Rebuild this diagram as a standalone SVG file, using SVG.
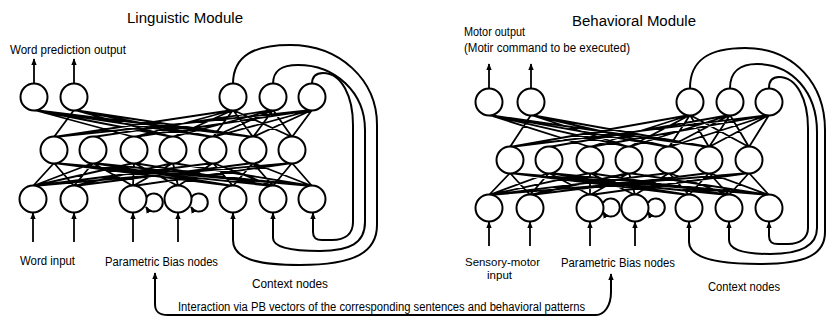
<svg xmlns="http://www.w3.org/2000/svg" width="827" height="320" viewBox="0 0 827 320">
<style>
.n{fill:#fff;stroke:#000;stroke-width:2}
.c{fill:none;stroke:#000;stroke-width:1.8;stroke-linecap:round}
.a{fill:none;stroke:#000;stroke-width:1.8}
.lp{fill:none;stroke:#000;stroke-width:2}
.t{font-family:"Liberation Sans",Arial,sans-serif;fill:#000}
</style>
<defs>
<marker id="ah" viewBox="0 0 10 8" refX="9" refY="4" markerWidth="7" markerHeight="6" markerUnits="userSpaceOnUse" orient="auto"><path d="M0,0L10,4L0,8z" fill="#000"/></marker>
<marker id="ahs" viewBox="0 0 10 8" refX="9" refY="4" markerWidth="7" markerHeight="6" markerUnits="userSpaceOnUse" orient="auto-start-reverse"><path d="M0,0L10,4L0,8z" fill="#000"/></marker>
</defs>
<rect width="827" height="320" fill="#fff"/>

<g id="connectors">
<path class="c" d="M34,110L134,137M34,110L173,137M34,110L213,137M34,110L253,137
M74,110L54,137M74,110L173,137M74,110L213,137M74,110L253,137
M233,110L54,137M233,110L134,137M233,110L173,137M233,110L213,137M233,110L253,137M233,110L292,137
M273,110L93,137M273,110L173,137M273,110L213,137M273,110L253,137M273,110L292,137
M312,110L54,137M312,110L134,137M312,110L213,137M312,110L253,137M312,110L292,137"/>
<path class="c" d="M54,163L33,186M54,163L74,186M54,163L233,186M54,163L273,186M54,163L312,186
M93,163L33,186M93,163L74,186M93,163L133,186M93,163L233,186M93,163L312,186
M134,163L33,186M134,163L133,186M134,163L178,186M134,163L273,186
M173,163L74,186M173,163L133,186M173,163L178,186M173,163L312,186
M213,163L33,186M213,163L178,186M213,163L233,186M213,163L273,186
M253,163L74,186M253,163L233,186M253,163L273,186M253,163L312,186
M292,163L33,186M292,163L133,186M292,163L273,186M292,163L312,186"/>
<path class="c" d="M489,115L590,147M489,115L629,147M489,115L669,147M489,115L709,147
M531,115L510,147M531,115L629,147M531,115L669,147M531,115L709,147
M690,115L510,147M690,115L590,147M690,115L629,147M690,115L669,147M690,115L709,147M690,115L749,147
M730,115L549,147M730,115L629,147M730,115L669,147M730,115L709,147M730,115L749,147
M769,115L510,147M769,115L590,147M769,115L669,147M769,115L709,147M769,115L749,147"/>
<path class="c" d="M510,173L489,195M510,173L530,195M510,173L689,195M510,173L729,195M510,173L769,195
M549,173L489,195M549,173L530,195M549,173L590,195M549,173L689,195M549,173L769,195
M590,173L489,195M590,173L590,195M590,173L635,195M590,173L729,195
M629,173L530,195M629,173L590,195M629,173L635,195M629,173L769,195
M669,173L489,195M669,173L635,195M669,173L689,195M669,173L729,195
M709,173L530,195M709,173L689,195M709,173L729,195M709,173L769,195
M749,173L489,195M749,173L590,195M749,173L729,195M749,173L769,195"/>

<!-- output arrows -->
<path class="a" marker-end="url(#ah)" d="M34,84L34,59"/>
<path class="a" marker-end="url(#ah)" d="M74,84L74,59"/>
<path class="a" marker-end="url(#ah)" d="M489,88L489,64"/>
<path class="a" marker-end="url(#ah)" d="M531,88L531,64"/>
<!-- input arrows -->
<path class="a" marker-end="url(#ah)" d="M33,242L33,213"/>
<path class="a" marker-end="url(#ah)" d="M74,242L74,213"/>
<path class="a" marker-end="url(#ah)" d="M133,242L133,213"/>
<path class="a" marker-end="url(#ah)" d="M178,242L178,213"/>
<path class="a" marker-end="url(#ah)" d="M489,246L489,222"/>
<path class="a" marker-end="url(#ah)" d="M530,246L530,222"/>
<path class="a" marker-end="url(#ah)" d="M590,246L590,222"/>
<path class="a" marker-end="url(#ah)" d="M635,246L635,222"/>
<!-- self loops on PB nodes -->
<path class="lp" marker-end="url(#ah)" d="M146,198A9,9 0 1,1 146,207"/>
<path class="lp" marker-end="url(#ah)" d="M191,198A9,9 0 1,1 191,207"/>
<path class="lp" marker-end="url(#ah)" d="M603,203A9,9 0 1,1 603,212"/>
<path class="lp" marker-end="url(#ah)" d="M648,203A9,9 0 1,1 648,212"/>
<!-- context loops -->
<path class="lp" marker-end="url(#ah)" d="M233,84C233,55 255,45 290,45C340,45 377,80 377,125L377,225C377,252 355,265 300,265C255,265 233,258 233,240L233,213"/>
<path class="lp" marker-end="url(#ah)" d="M273,84C273,70 282,65 298,65C335,65 365,92 365,130L365,222C365,243 350,251 320,251C290,251 273,247 273,238L273,213"/>
<path class="lp" marker-end="url(#ah)" d="M312,84C312,77 316,73 323,73C342,73 353,97 353,125L353,222C353,234 345,240 332,240L322,240C316,240 313,238 313,232L313,213"/>
<path class="lp" marker-end="url(#ah)" d="M690,88C690,58 712,48 745,48C795,48 825,85 825,130L825,232C825,255 805,264 760,264C710,264 689,256 689,242L689,222"/>
<path class="lp" marker-end="url(#ah)" d="M730,88C730,72 740,64 757,64C792,64 817,92 817,132L817,228C817,246 800,254 770,254C745,254 729,250 729,240L729,222"/>
<path class="lp" marker-end="url(#ah)" d="M769,88C769,81 772,77 779,77C797,77 808,100 808,128L808,228C808,238 800,244 788,244L778,244C772,244 769,242 769,236L769,222"/>
<!-- interaction -->
<path class="lp" marker-start="url(#ahs)" marker-end="url(#ah)" d="M155,273L155,304C155,312 159,315 168,315L596,315C604,315 611,306 611,292L611,274"/>
</g>

<g id="L-out1"><circle class="n" cx="34" cy="97" r="13.5"/></g>
<g id="L-out2"><circle class="n" cx="74" cy="97" r="13.5"/></g>
<g id="L-ctxout1"><circle class="n" cx="233" cy="97" r="13.5"/></g>
<g id="L-ctxout2"><circle class="n" cx="273" cy="97" r="13.5"/></g>
<g id="L-ctxout3"><circle class="n" cx="312" cy="97" r="13.5"/></g>
<g id="L-hid1"><circle class="n" cx="54" cy="150" r="13.5"/></g>
<g id="L-hid2"><circle class="n" cx="93" cy="150" r="13.5"/></g>
<g id="L-hid3"><circle class="n" cx="134" cy="150" r="13.5"/></g>
<g id="L-hid4"><circle class="n" cx="173" cy="150" r="13.5"/></g>
<g id="L-hid5"><circle class="n" cx="213" cy="150" r="13.5"/></g>
<g id="L-hid6"><circle class="n" cx="253" cy="150" r="13.5"/></g>
<g id="L-hid7"><circle class="n" cx="292" cy="150" r="13.5"/></g>
<g id="L-in1"><circle class="n" cx="33" cy="199" r="13.5"/></g>
<g id="L-in2"><circle class="n" cx="74" cy="199" r="13.5"/></g>
<g id="L-pb1"><circle class="n" cx="133" cy="199" r="13.5"/></g>
<g id="L-pb2"><circle class="n" cx="178" cy="199" r="13.5"/></g>
<g id="L-ctxin1"><circle class="n" cx="233" cy="199" r="13.5"/></g>
<g id="L-ctxin2"><circle class="n" cx="273" cy="199" r="13.5"/></g>
<g id="L-ctxin3"><circle class="n" cx="312" cy="199" r="13.5"/></g>

<g id="B-out1"><circle class="n" cx="489" cy="102" r="13.5"/></g>
<g id="B-out2"><circle class="n" cx="531" cy="102" r="13.5"/></g>
<g id="B-ctxout1"><circle class="n" cx="690" cy="102" r="13.5"/></g>
<g id="B-ctxout2"><circle class="n" cx="730" cy="102" r="13.5"/></g>
<g id="B-ctxout3"><circle class="n" cx="769" cy="102" r="13.5"/></g>
<g id="B-hid1"><circle class="n" cx="510" cy="160" r="13.5"/></g>
<g id="B-hid2"><circle class="n" cx="549" cy="160" r="13.5"/></g>
<g id="B-hid3"><circle class="n" cx="590" cy="160" r="13.5"/></g>
<g id="B-hid4"><circle class="n" cx="629" cy="160" r="13.5"/></g>
<g id="B-hid5"><circle class="n" cx="669" cy="160" r="13.5"/></g>
<g id="B-hid6"><circle class="n" cx="709" cy="160" r="13.5"/></g>
<g id="B-hid7"><circle class="n" cx="749" cy="160" r="13.5"/></g>
<g id="B-in1"><circle class="n" cx="489" cy="208" r="13.5"/></g>
<g id="B-in2"><circle class="n" cx="530" cy="208" r="13.5"/></g>
<g id="B-pb1"><circle class="n" cx="590" cy="208" r="13.5"/></g>
<g id="B-pb2"><circle class="n" cx="635" cy="208" r="13.5"/></g>
<g id="B-ctxin1"><circle class="n" cx="689" cy="208" r="13.5"/></g>
<g id="B-ctxin2"><circle class="n" cx="729" cy="208" r="13.5"/></g>
<g id="B-ctxin3"><circle class="n" cx="769" cy="208" r="13.5"/></g>

<g id="labels">
<text class="t" x="127" y="23" font-size="14" textLength="116" lengthAdjust="spacingAndGlyphs">Linguistic Module</text>
<text class="t" x="10" y="54" font-size="12" textLength="116" lengthAdjust="spacingAndGlyphs">Word prediction output</text>
<text class="t" x="20" y="265" font-size="12" textLength="55" lengthAdjust="spacingAndGlyphs">Word input</text>
<text class="t" x="105" y="266" font-size="12" textLength="113" lengthAdjust="spacingAndGlyphs">Parametric Bias nodes</text>
<text class="t" x="252" y="288" font-size="12" textLength="76" lengthAdjust="spacingAndGlyphs">Context nodes</text>
<text class="t" x="572" y="26" font-size="14" textLength="124" lengthAdjust="spacingAndGlyphs">Behavioral Module</text>
<text class="t" x="464" y="36" font-size="12" textLength="61" lengthAdjust="spacingAndGlyphs">Motor output</text>
<text class="t" x="464" y="52" font-size="12" textLength="166" lengthAdjust="spacingAndGlyphs">(Motir command to be executed)</text>
<text class="t" x="465" y="266" font-size="11.5" textLength="75" lengthAdjust="spacingAndGlyphs">Sensory-motor</text>
<text class="t" x="487" y="279" font-size="11.5" textLength="25" lengthAdjust="spacingAndGlyphs">input</text>
<text class="t" x="561" y="267" font-size="12" textLength="114" lengthAdjust="spacingAndGlyphs">Parametric Bias nodes</text>
<text class="t" x="708" y="291" font-size="12" textLength="72" lengthAdjust="spacingAndGlyphs">Context nodes</text>
<text class="t" x="178" y="311" font-size="12" textLength="407" lengthAdjust="spacingAndGlyphs">Interaction via PB vectors of the corresponding sentences and behavioral patterns</text>
</g>
</svg>
